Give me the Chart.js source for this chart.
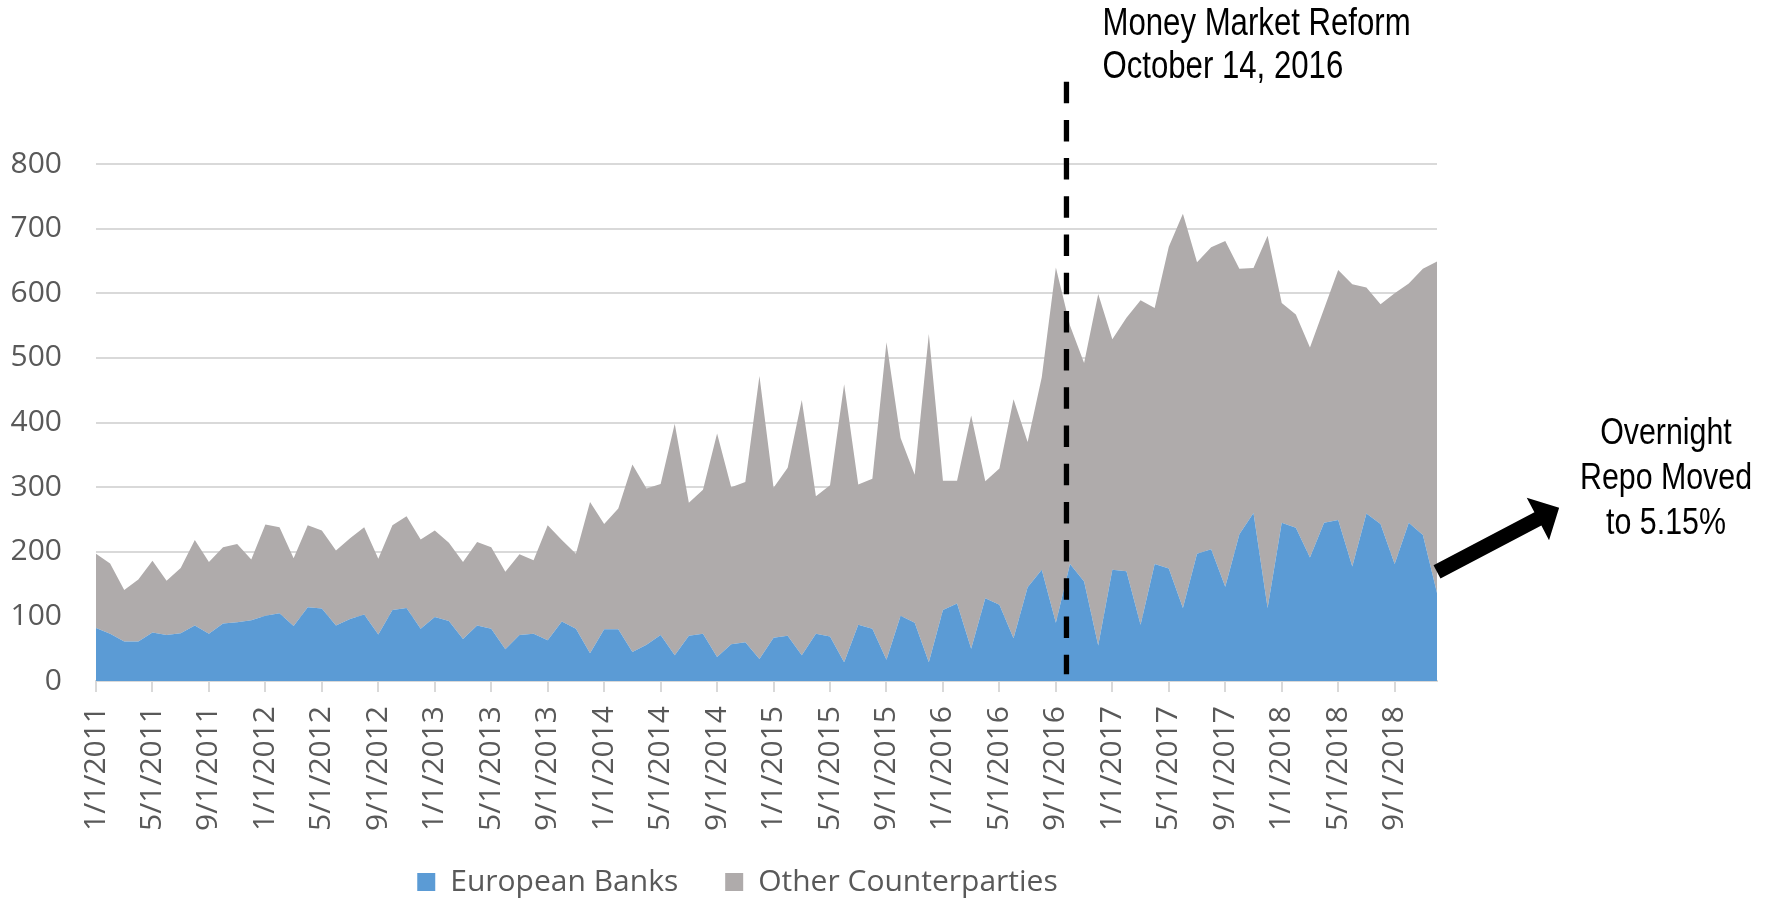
<!DOCTYPE html>
<html>
<head>
<meta charset="utf-8">
<title>Repo counterparties</title>
<script src="https://cdn.jsdelivr.net/npm/chart.js@4.4.0/dist/chart.umd.min.js"></script>
<style>
  html, body { margin: 0; padding: 0; background: #fff; }
  #wrap { width: 1771px; height: 899px; }
</style>
</head>
<body>
<div id="wrap"><canvas id="repoChart"></canvas></div>
<script>
const months = [
    '1/1/2011', '2/1/2011', '3/1/2011', '4/1/2011', '5/1/2011', '6/1/2011', '7/1/2011', '8/1/2011', '9/1/2011', '10/1/2011', '11/1/2011', '12/1/2011',
    '1/1/2012', '2/1/2012', '3/1/2012', '4/1/2012', '5/1/2012', '6/1/2012', '7/1/2012', '8/1/2012', '9/1/2012', '10/1/2012', '11/1/2012', '12/1/2012',
    '1/1/2013', '2/1/2013', '3/1/2013', '4/1/2013', '5/1/2013', '6/1/2013', '7/1/2013', '8/1/2013', '9/1/2013', '10/1/2013', '11/1/2013', '12/1/2013',
    '1/1/2014', '2/1/2014', '3/1/2014', '4/1/2014', '5/1/2014', '6/1/2014', '7/1/2014', '8/1/2014', '9/1/2014', '10/1/2014', '11/1/2014', '12/1/2014',
    '1/1/2015', '2/1/2015', '3/1/2015', '4/1/2015', '5/1/2015', '6/1/2015', '7/1/2015', '8/1/2015', '9/1/2015', '10/1/2015', '11/1/2015', '12/1/2015',
    '1/1/2016', '2/1/2016', '3/1/2016', '4/1/2016', '5/1/2016', '6/1/2016', '7/1/2016', '8/1/2016', '9/1/2016', '10/1/2016', '11/1/2016', '12/1/2016',
    '1/1/2017', '2/1/2017', '3/1/2017', '4/1/2017', '5/1/2017', '6/1/2017', '7/1/2017', '8/1/2017', '9/1/2017', '10/1/2017', '11/1/2017', '12/1/2017',
    '1/1/2018', '2/1/2018', '3/1/2018', '4/1/2018', '5/1/2018', '6/1/2018', '7/1/2018', '8/1/2018', '9/1/2018', '10/1/2018', '11/1/2018', '12/1/2018'
];

// labels that show on the x axis (every 4 months)
const tickLabels = [
    '1/1/2011', '5/1/2011', '9/1/2011', '1/1/2012', '5/1/2012', '9/1/2012',
    '1/1/2013', '5/1/2013', '9/1/2013', '1/1/2014', '5/1/2014', '9/1/2014',
    '1/1/2015', '5/1/2015', '9/1/2015', '1/1/2016', '5/1/2016', '9/1/2016',
    '1/1/2017', '5/1/2017', '9/1/2017', '1/1/2018', '5/1/2018', '9/1/2018'
];

const europeanBanks = [
    82, 73, 61, 61, 75, 71, 74, 86, 73, 89, 91, 94,
    101, 105, 85, 114, 112, 86, 96, 103, 72, 110, 113, 81,
    99, 93, 65, 86, 81, 49, 71, 73, 63, 92, 81, 43,
    80, 80, 45, 56, 71, 40, 70, 73, 37, 57, 60, 34,
    67, 70, 40, 73, 69, 29, 87, 81, 33, 101, 90, 29,
    110, 120, 50, 128, 118, 66, 145, 172, 90, 181, 154, 55,
    172, 170, 87, 181, 174, 113, 197, 204, 146, 227, 260, 113,
    245, 237, 191, 245, 249, 177, 259, 243, 181, 245, 226, 136
];

const otherCounterparties = [
    115, 109, 80, 96, 111, 84, 101, 132, 111, 118, 121, 94,
    141, 133, 105, 127, 121, 116, 125, 135, 117, 131, 142, 138,
    134, 121, 119, 129, 126, 120, 125, 114, 178, 126, 116, 234,
    163, 187, 290, 242, 234, 358, 206, 223, 346, 243, 248, 438,
    232, 260, 395, 213, 234, 430, 217, 232, 491, 275, 229, 508,
    200, 190, 361, 181, 211, 370, 225, 298, 550, 369, 338, 544,
    357, 392, 502, 396, 498, 610, 451, 467, 535, 411, 379, 576,
    340, 330, 325, 331, 387, 437, 350, 340, 419, 370, 412, 513
];

// where the reform line sits, in category units (between 9/1/2016 and 10/1/2016)
const reformIndex = 68.75;
const arrowValue = 169;

const textGray = '#595959';
const gridGray = '#D9D9D9';

Chart.defaults.font.family = '"Open Sans", "Noto Sans", sans-serif';
Chart.defaults.color = textGray;

// Arial Narrow look: Liberation Sans squeezed horizontally
function narrowText(ctx, text, x, y, size, align) {
    ctx.save();
    ctx.font = size + 'px "Liberation Sans", Arial, sans-serif';
    ctx.fillStyle = '#000';
    ctx.textAlign = align;
    ctx.textBaseline = 'middle';
    ctx.translate(x, y);
    ctx.scale(0.82, 1);
    ctx.fillText(text, 0, 0);
    ctx.restore();
}

// nudge the legend to where Excel put it (wide item gap, low on the page)
const legendNudge = {
    id: 'legendNudge',
    afterLayout(chart) {
        const lg = chart.legend;
        lg.left += 19;
        lg.right += 19;
        lg.top = 820;
        lg.bottom = 899;
        lg.height = lg.bottom - lg.top;
    }
};

const annotations = {
    id: 'annotations',
    afterDatasetsDraw(chart) {
        const { ctx, chartArea, scales: { x, y } } = chart;

        // dashed reform line
        const lx = x.getPixelForValue(reformIndex);
        ctx.save();
        ctx.strokeStyle = '#000';
        ctx.lineWidth = 5.3;
        ctx.setLineDash([21.5, 16.7]);
        ctx.beginPath();
        ctx.moveTo(lx, 81.7);
        ctx.lineTo(lx, y.getPixelForValue(0) - 6.7);
        ctx.stroke();
        ctx.restore();

        narrowText(ctx, 'Money Market Reform', lx + 36, 25, 38, 'left');
        narrowText(ctx, 'October 14, 2016', lx + 36, 68, 38, 'left');

        // arrow from the right edge of the plot
        const tx = chartArea.right;
        const ty = y.getPixelForValue(arrowValue);
        const ux = 0.885, uy = -0.464;
        const px = -uy, py = ux;
        const len = 138, head = 24, headHalf = 24, shaftHalf = 7.5;
        const bx = tx + ux * (len - head), by = ty + uy * (len - head);
        ctx.save();
        ctx.fillStyle = '#000';
        ctx.beginPath();
        ctx.moveTo(tx + px * shaftHalf, ty + py * shaftHalf);
        ctx.lineTo(bx + px * shaftHalf, by + py * shaftHalf);
        ctx.lineTo(bx + px * headHalf, by + py * headHalf);
        ctx.lineTo(tx + ux * len, ty + uy * len);
        ctx.lineTo(bx - px * headHalf, by - py * headHalf);
        ctx.lineTo(bx - px * shaftHalf, by - py * shaftHalf);
        ctx.lineTo(tx - px * shaftHalf, ty - py * shaftHalf);
        ctx.closePath();
        ctx.fill();
        ctx.restore();

        narrowText(ctx, 'Overnight', 1666, 433.5, 37, 'center');
        narrowText(ctx, 'Repo Moved', 1666, 479, 37, 'center');
        narrowText(ctx, 'to 5.15%', 1666, 524, 37, 'center');
    }
};

const ctx = document.getElementById('repoChart').getContext('2d');
const repoChart = new Chart(ctx, {
    type: 'line',
    data: {
        labels: months,
        datasets: [
            {
                label: 'European Banks',
                data: europeanBanks,
                fill: 'origin',
                backgroundColor: '#5B9BD5',
                borderColor: '#5B9BD5',
                borderWidth: 0,
                pointRadius: 0,
                tension: 0
            },
            {
                label: 'Other Counterparties',
                data: otherCounterparties,
                fill: '-1',
                backgroundColor: '#AFABAB',
                borderColor: '#AFABAB',
                borderWidth: 0,
                pointRadius: 0,
                tension: 0
            }
        ]
    },
    options: {
        responsive: true,
        maintainAspectRatio: false,
        animation: false,
        layout: {
            padding: { left: 0, right: 334, top: 164, bottom: 0 }
        },
        scales: {
            x: {
                grid: {
                    drawOnChartArea: false,
                    color: gridGray,
                    lineWidth: 2,
                    tickLength: 11
                },
                border: { color: gridGray, width: 2 },
                ticks: {
                    autoSkip: false,
                    minRotation: 90,
                    maxRotation: 90,
                    padding: 14,
                    color: textGray,
                    font: { size: 30 },
                    callback: function (value) {
                        const label = this.getLabelForValue(value);
                        return tickLabels.includes(label) ? label : null;
                    }
                },
                afterFit: function (scale) { scale.height = 160; }
            },
            y: {
                stacked: true,
                min: 0,
                max: 800,
                grid: { color: gridGray, lineWidth: 2, drawTicks: false },
                border: { display: false },
                ticks: {
                    stepSize: 100,
                    padding: 34,
                    color: textGray,
                    font: { size: 30 }
                },
                afterFit: function (scale) { scale.width = 96; }
            }
        },
        plugins: {
            legend: {
                position: 'bottom',
                maxHeight: 58,
                labels: {
                    boxWidth: 18,
                    boxHeight: 18,
                    padding: 47,
                    color: textGray,
                    font: { size: 30 }
                }
            },
            tooltip: { enabled: false }
        }
    },
    plugins: [legendNudge, annotations]
});
</script>
</body>
</html>
